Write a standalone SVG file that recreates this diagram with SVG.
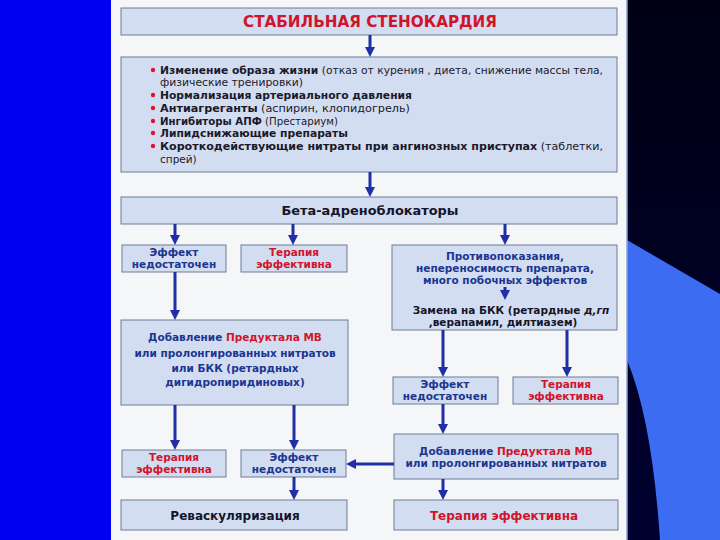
<svg xmlns="http://www.w3.org/2000/svg" width="720" height="540" viewBox="0 0 720 540">
<defs>
<style>
.box{fill:#d3ddf1;stroke:#6d7c96;stroke-width:1}
.t{font-family:"DejaVu Sans","Liberation Sans",Arial,sans-serif;font-weight:bold;text-anchor:middle;font-size:10.5px}
.l{font-family:"DejaVu Sans","Liberation Sans",Arial,sans-serif;font-size:10.5px;fill:#1a1a2a}
.b{font-weight:bold}
.blue{fill:#1b3590}
.red{fill:#d0142c}
.dark{fill:#15152a}
.conn line{stroke:#1f2fa5;stroke-width:3;marker-end:url(#ah)}
</style>
<marker id="ah" markerUnits="userSpaceOnUse" markerWidth="12" markerHeight="10" refX="2" refY="5" orient="auto">
<path d="M0,0 L10,5 L0,10 z" fill="#1f2fa5"/>
</marker>
<linearGradient id="rg" x1="0" y1="0" x2="0" y2="1">
<stop offset="0" stop-color="#000014"/>
<stop offset="1" stop-color="#000030"/>
</linearGradient>
</defs>
<rect x="0" y="0" width="720" height="540" fill="#0000f2"/>
<rect x="627" y="0" width="93" height="540" fill="url(#rg)"/>
<path d="M627,240 L720,294 L720,540 L660,540 Q652,420 627,360 Z" fill="#3b6cf2"/>
<rect x="111" y="0" width="516" height="540" fill="#f5f6f7"/>
<line x1="627" y1="0" x2="627" y2="540" stroke="#8aa0d8" stroke-width="1.5"/>

<g id="title">
<rect class="box" x="121" y="8" width="496" height="27"/>
<text class="t red" x="370" y="27" style="font-size:15px" textLength="254" lengthAdjust="spacingAndGlyphs">СТАБИЛЬНАЯ СТЕНОКАРДИЯ</text>
</g>

<g id="list">
<rect class="box" x="121" y="57" width="496" height="115"/>
<g fill="#e0142c">
<circle cx="153" cy="70" r="2.2"/>
<circle cx="153" cy="95" r="2.2"/>
<circle cx="153" cy="108" r="2.2"/>
<circle cx="153" cy="121" r="2.2"/>
<circle cx="153" cy="133" r="2.2"/>
<circle cx="153" cy="146" r="2.2"/>
</g>
<text class="l" x="160" y="74" textLength="443" lengthAdjust="spacingAndGlyphs"><tspan class="b">Изменение образа жизни</tspan> (отказ от курения , диета, снижение массы тела,</text>
<text class="l" x="160" y="86" textLength="143" lengthAdjust="spacingAndGlyphs">физические тренировки)</text>
<text class="l" x="160" y="99" textLength="252" lengthAdjust="spacingAndGlyphs"><tspan class="b">Нормализация артериального давления</tspan></text>
<text class="l" x="160" y="112" textLength="250" lengthAdjust="spacingAndGlyphs"><tspan class="b">Антиагреганты</tspan> (аспирин, клопидогрель)</text>
<text class="l" x="160" y="125" textLength="178" lengthAdjust="spacingAndGlyphs"><tspan class="b">Ингибиторы АПФ</tspan> (Престариум)</text>
<text class="l" x="160" y="137" textLength="188" lengthAdjust="spacingAndGlyphs"><tspan class="b">Липидснижающие препараты</tspan></text>
<text class="l" x="160" y="150" textLength="443" lengthAdjust="spacingAndGlyphs"><tspan class="b">Короткодействующие нитраты при ангинозных приступах</tspan> (таблетки,</text>
<text class="l" x="160" y="163">спрей)</text>
</g>

<g id="beta">
<rect class="box" x="121" y="197" width="496" height="27"/>
<text class="t dark" x="370" y="215" style="font-size:12.5px" textLength="177" lengthAdjust="spacingAndGlyphs">Бета-адреноблокаторы</text>
</g>

<g id="a-eff-insuff">
<rect class="box" x="122" y="245" width="104" height="27"/>
<text class="t blue" x="174" y="256">Эффект</text>
<text class="t blue" x="174" y="268">недостаточен</text>
</g>

<g id="b-ther-eff">
<rect class="box" x="241" y="245" width="106" height="27"/>
<text class="t red" x="294" y="256">Терапия</text>
<text class="t red" x="294" y="268">эффективна</text>
</g>

<g id="c-contra">
<rect class="box" x="392" y="245" width="225" height="85"/>
<text class="t blue" x="505" y="260">Противопоказания,</text>
<text class="t blue" x="505" y="272">непереносимость препарата,</text>
<text class="t blue" x="505" y="284">много побочных эффектов</text>
<text class="t dark" x="511" y="314">Замена на БКК (ретардные <tspan font-style="italic">д,гп</tspan></text>
<text class="t dark" x="503" y="326">,верапамил, дилтиазем)</text>
</g>

<g id="d-add">
<rect class="box" x="121" y="320" width="227" height="85"/>
<text class="t blue" x="235" y="341">Добавление <tspan class="red">Предуктала МВ</tspan></text>
<text class="t blue" x="235" y="357">или пролонгированных нитратов</text>
<text class="t blue" x="235" y="372">или БКК (ретардных</text>
<text class="t blue" x="235" y="386">дигидропиридиновых)</text>
</g>

<g id="e-eff-insuff">
<rect class="box" x="393" y="377" width="105" height="27"/>
<text class="t blue" x="445" y="388">Эффект</text>
<text class="t blue" x="445" y="400">недостаточен</text>
</g>

<g id="f-ther-eff">
<rect class="box" x="513" y="377" width="105" height="27"/>
<text class="t red" x="566" y="388">Терапия</text>
<text class="t red" x="566" y="400">эффективна</text>
</g>

<g id="g-ther-eff">
<rect class="box" x="122" y="450" width="104" height="27"/>
<text class="t red" x="174" y="461">Терапия</text>
<text class="t red" x="174" y="473">эффективна</text>
</g>

<g id="h-eff-insuff">
<rect class="box" x="241" y="450" width="105" height="27"/>
<text class="t blue" x="294" y="461">Эффект</text>
<text class="t blue" x="294" y="473">недостаточен</text>
</g>

<g id="i-add">
<rect class="box" x="394" y="434" width="224" height="45"/>
<text class="t blue" x="506" y="455">Добавление <tspan class="red">Предуктала МВ</tspan></text>
<text class="t blue" x="506" y="467">или пролонгированных нитратов</text>
</g>

<g id="j-ther-eff">
<rect class="box" x="394" y="500" width="224" height="30"/>
<text class="t red" x="504" y="520" style="font-size:12px">Терапия эффективна</text>
</g>

<g id="k-revasc">
<rect class="box" x="121" y="500" width="226" height="30"/>
<text class="t dark" x="235" y="520" style="font-size:12px">Реваскуляризация</text>
</g>

<g class="conn">
<line x1="370" y1="35" x2="370" y2="49"/>
<line x1="370" y1="172" x2="370" y2="189"/>
<line x1="175" y1="224" x2="175" y2="237"/>
<line x1="293" y1="224" x2="293" y2="237"/>
<line x1="505" y1="224" x2="505" y2="237"/>
<line x1="505" y1="287" x2="505" y2="292"/>
<line x1="175" y1="272" x2="175" y2="312"/>
<line x1="443" y1="330" x2="443" y2="369"/>
<line x1="567" y1="330" x2="567" y2="369"/>
<line x1="175" y1="405" x2="175" y2="442"/>
<line x1="294" y1="405" x2="294" y2="442"/>
<line x1="443" y1="404" x2="443" y2="426"/>
<line x1="394" y1="464" x2="354" y2="464"/>
<line x1="443" y1="479" x2="443" y2="492"/>
<line x1="294" y1="477" x2="294" y2="492"/>
</g>
</svg>
